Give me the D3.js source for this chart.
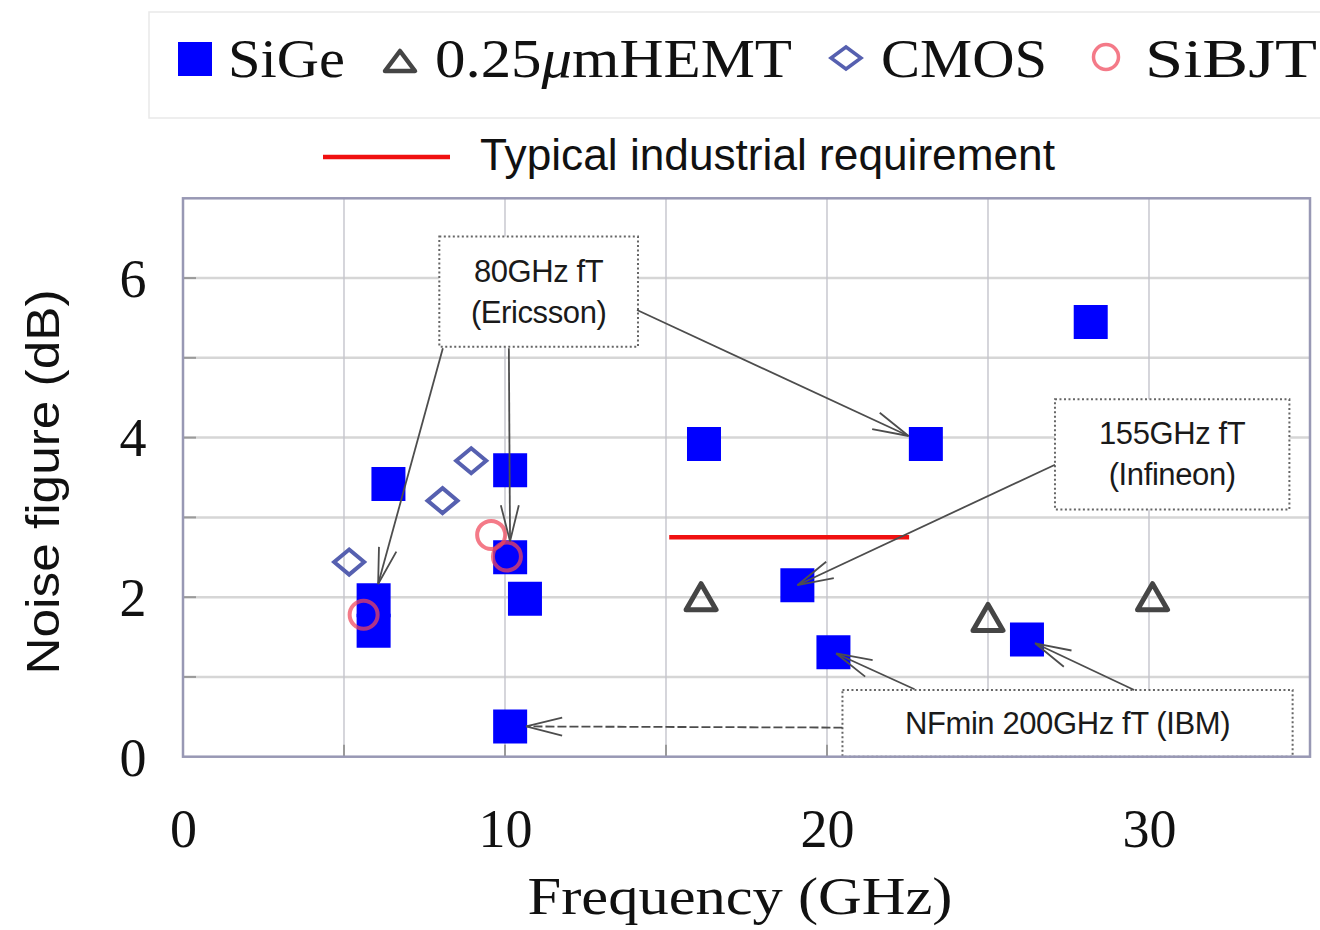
<!DOCTYPE html>
<html>
<head>
<meta charset="utf-8">
<script src="https://cdn.jsdelivr.net/npm/d3@7"></script>
<style>
  html, body { margin: 0; padding: 0; background: #fff; }
  svg { display: block; }
</style>
</head>
<body>
<svg id="chart" width="1320" height="930"></svg>
<script>
// Noise figure (dB) of low-noise amplifiers versus frequency (GHz), by technology
const sigeFreq = [6.38, 5.92, 5.92, 10.16, 10.16, 10.62, 10.16, 16.18, 23.07, 19.08, 20.20, 26.21, 28.19];
const sigeNF   = [3.42, 1.96, 1.58, 3.59, 2.50, 1.98, 0.38, 3.92, 3.92, 2.15, 1.31, 1.47, 5.45];
const hemtFreq = [16.09, 25.00, 30.11];
const hemtNF   = [1.99, 1.73, 1.99];
const cmosFreq = [5.16, 8.06, 8.95];
const cmosNF   = [2.44, 3.21, 3.71];
const bjtFreq  = [5.61, 9.57, 10.06];
const bjtNF    = [1.78, 2.78, 2.51];
const requirementFreq = [15.1, 22.55];
const requirementNF = 2.75;
const xTickValues = [0, 10, 20, 30];
const yTickValues = [0, 2, 4, 6];
const requirementLabel = "Typical industrial requirement";

// Callouts: box extent [x0, x1, yTop, yBottom] in data units, arrows point at SiGe entries
const callouts = [
  { lines: ["80GHz fT", "(Ericsson)"], box: [7.96, 14.13, 6.52, 5.14],
    arrows: [ { from: [8.07, 5.12], to: 1, gap: 17 },
              { from: [10.12, 5.12], to: 4, gap: 16 },
              { from: [14.10, 5.60], to: 8, gap: 19 } ] },
  { lines: ["155GHz fT", "(Infineon)"], box: [27.08, 34.36, 4.48, 3.10],
    arrows: [ { from: [27.08, 3.66], to: 9, gap: 0 } ] },
  { lines: ["NFmin 200GHz fT (IBM)"], box: [20.48, 34.46, 0.836, 0.0],
    arrows: [ { from: [22.72, 0.845], to: 10, gap: 3 },
              { from: [29.54, 0.836], to: 11, gap: 9 },
              { from: [20.48, 0.365], to: 6, gap: 16, dashed: true } ] }
];

const svg = d3.select("#chart");
const plot = { left: 183, right: 1310, top: 198.3, bottom: 756.7 };
const x = d3.scaleLinear().domain([0, 35]).range([plot.left, plot.right]);
const y = d3.scaleLinear().domain([0, 7]).range([plot.bottom, plot.top]);

const SERIF = "'Liberation Serif', 'Times New Roman', serif";
const SANS = "'Liberation Sans', Arial, sans-serif";
const BLUE = "#0000ff";
const HEMT = "#454545";
const CMOS = "#5660b0";
const BJT = "rgba(240, 70, 90, 0.72)";

// Marker shapes
const squareSide = 34;
function squarePath(s) { const h = s / 2; return `M${-h},${-h}H${h}V${h}H${-h}Z`; }
function trianglePath(w, h) { return `M0,${-h * 0.55}L${w / 2},${h * 0.45}L${-w / 2},${h * 0.45}Z`; }
function diamondPath(w, h) { return `M0,${-h / 2}L${w / 2},0L0,${h / 2}L${-w / 2},0Z`; }

// ---------- legend ----------
const legend = svg.append("g");
legend.append("rect").attr("x", 149).attr("y", 12).attr("width", 1190).attr("height", 106)
  .attr("fill", "#fff").attr("stroke", "#e9e9e9").attr("stroke-width", 1.5);

const legendY = 59;
legend.append("path").attr("d", squarePath(34)).attr("transform", `translate(195,${legendY})`).attr("fill", BLUE);
legend.append("path").attr("d", trianglePath(30, 20)).attr("transform", `translate(400,${legendY + 3})`)
  .attr("fill", "none").attr("stroke", HEMT).attr("stroke-width", 4.5).attr("stroke-linejoin", "round");
legend.append("path").attr("d", diamondPath(30, 22)).attr("transform", `translate(846,${legendY - 1})`)
  .attr("fill", "none").attr("stroke", CMOS).attr("stroke-width", 3.5);
legend.append("circle").attr("cx", 1106).attr("cy", legendY - 2).attr("r", 12.5)
  .attr("fill", "none").attr("stroke", BJT).attr("stroke-width", 3.5);

// legend labels: each is a list of [text, italic] runs
const legendLabels = [
  [["SiGe", false]],
  [["0.25", false], ["\u03BC", true], ["mHEMT", false]],
  [["CMOS", false]],
  [["SiBJT", false]]
];
const legendText = [
  { x: 228, len: 117 }, { x: 435, len: 357 }, { x: 881, len: 166 }, { x: 1145, len: 172 }
];
legendLabels.forEach((runs, i) => {
  const t = legend.append("text").attr("x", legendText[i].x).attr("y", 77)
    .attr("font-family", SERIF).attr("font-size", 55).attr("fill", "#111")
    .attr("textLength", legendText[i].len).attr("lengthAdjust", "spacingAndGlyphs");
  runs.forEach(([s, it]) => t.append("tspan").attr("font-style", it ? "italic" : null).text(s));
});

// requirement legend entry
svg.append("line").attr("x1", 323).attr("x2", 450).attr("y1", 157).attr("y2", 157)
  .attr("stroke", "#f01010").attr("stroke-width", 4.5);
svg.append("text").attr("x", 480).attr("y", 170)
  .attr("font-family", SANS).attr("font-size", 44).attr("fill", "#111")
  .attr("textLength", 575).attr("lengthAdjust", "spacingAndGlyphs")
  .text(requirementLabel);

// ---------- grid ----------
const grid = svg.append("g");
grid.selectAll("line.h").data(d3.range(1, 7)).join("line")
  .attr("x1", plot.left).attr("x2", plot.right)
  .attr("y1", d => y(d)).attr("y2", d => y(d))
  .attr("stroke", "#d6d6d6").attr("stroke-width", 2.5);
grid.selectAll("line.v").data(d3.range(5, 35, 5)).join("line")
  .attr("x1", d => x(d)).attr("x2", d => x(d))
  .attr("y1", plot.top).attr("y2", plot.bottom)
  .attr("stroke", "#c4c4cc").attr("stroke-width", 1.4);

// inner tick marks
grid.selectAll("line.yt").data(d3.range(1, 7)).join("line")
  .attr("x1", plot.left).attr("x2", plot.left + 13)
  .attr("y1", d => y(d)).attr("y2", d => y(d))
  .attr("stroke", "#9a9a9a").attr("stroke-width", 2);
grid.selectAll("line.xt").data(d3.range(5, 35, 5)).join("line")
  .attr("x1", d => x(d)).attr("x2", d => x(d))
  .attr("y1", plot.bottom).attr("y2", plot.bottom - 12)
  .attr("stroke", "#9a9a9a").attr("stroke-width", 2);

// ---------- axes labels ----------
const xAxis = svg.append("g").attr("transform", `translate(0,${plot.bottom})`)
  .call(d3.axisBottom(x).tickValues(xTickValues).tickSize(0).tickPadding(52).tickFormat(d3.format("d")));
xAxis.select(".domain").remove();
xAxis.selectAll("text").attr("font-family", SERIF).attr("font-size", 54).attr("fill", "#111");

const yAxis = svg.append("g").attr("transform", `translate(${plot.left},0)`)
  .call(d3.axisLeft(y).tickValues(yTickValues).tickSize(0).tickPadding(50).tickFormat(d3.format("d")));
yAxis.select(".domain").remove();
yAxis.selectAll("text").attr("font-family", SERIF).attr("font-size", 54).attr("fill", "#111")
  .attr("text-anchor", "middle").attr("dy", "0.34em");

svg.append("text").attr("transform", "translate(59,482) rotate(-90)")
  .attr("text-anchor", "middle").attr("font-family", SANS).attr("font-size", 47).attr("fill", "#111")
  .attr("textLength", 385).attr("lengthAdjust", "spacingAndGlyphs")
  .text("Noise figure (dB)");
svg.append("text").attr("x", 740).attr("y", 914).attr("text-anchor", "middle")
  .attr("font-family", SERIF).attr("font-size", 53).attr("fill", "#111")
  .attr("textLength", 425).attr("lengthAdjust", "spacingAndGlyphs")
  .text("Frequency (GHz)");

// ---------- requirement line ----------
svg.append("line")
  .attr("x1", x(requirementFreq[0])).attr("x2", x(requirementFreq[1]))
  .attr("y1", y(requirementNF)).attr("y2", y(requirementNF))
  .attr("stroke", "#f01010").attr("stroke-width", 4.5);

// ---------- markers ----------
const sige = sigeFreq.map((f, i) => ({ f, nf: sigeNF[i] }));
svg.append("g").selectAll("path").data(sige).join("path")
  .attr("d", squarePath(squareSide))
  .attr("transform", d => `translate(${x(d.f)},${y(d.nf)})`)
  .attr("fill", BLUE);

svg.append("g").selectAll("path").data(hemtFreq.map((f, i) => ({ f, nf: hemtNF[i] }))).join("path")
  .attr("d", trianglePath(30, 26))
  .attr("transform", d => `translate(${x(d.f)},${y(d.nf)})`)
  .attr("fill", "none").attr("stroke", HEMT).attr("stroke-width", 5).attr("stroke-linejoin", "round");

svg.append("g").selectAll("path").data(cmosFreq.map((f, i) => ({ f, nf: cmosNF[i] }))).join("path")
  .attr("d", diamondPath(30, 25))
  .attr("transform", d => `translate(${x(d.f)},${y(d.nf)})`)
  .attr("fill", "none").attr("stroke", CMOS).attr("stroke-width", 4);

svg.append("g").selectAll("circle").data(bjtFreq.map((f, i) => ({ f, nf: bjtNF[i] }))).join("circle")
  .attr("cx", d => x(d.f)).attr("cy", d => y(d.nf)).attr("r", 14)
  .attr("fill", "none").attr("stroke", BJT).attr("stroke-width", 4);

// ---------- callouts ----------
const notes = svg.append("g");
callouts.forEach(c => {
  const [bx0, bx1, byTop, byBot] = c.box;
  const X0 = x(bx0), X1 = x(bx1), Y0 = y(byTop), Y1 = y(byBot);
  notes.append("rect").attr("x", X0).attr("y", Y0).attr("width", X1 - X0).attr("height", Y1 - Y0)
    .attr("fill", "#fff").attr("stroke", "#666").attr("stroke-width", 2).attr("stroke-dasharray", "2,2.5");
  const cy = (Y0 + Y1) / 2, n = c.lines.length;
  c.lines.forEach((t, i) => {
    notes.append("text").attr("x", (X0 + X1) / 2).attr("y", cy + (i - (n - 1) / 2) * 41 + 10.5)
      .attr("text-anchor", "middle").attr("font-family", SANS).attr("font-size", 31)
      .attr("letter-spacing", -0.4).attr("fill", "#1a1a1a").text(t);
  });
});

const arrows = svg.append("g").attr("fill", "none").attr("stroke", "#4d4d4d").attr("stroke-width", 1.8);
callouts.forEach(c => {
  c.arrows.forEach(a => {
    const sx = x(a.from[0]), sy = y(a.from[1]);
    const tx = x(sige[a.to].f), ty = y(sige[a.to].nf);
    const ang = Math.atan2(ty - sy, tx - sx);
    const ex = tx - Math.cos(ang) * a.gap, ey = ty - Math.sin(ang) * a.gap;
    arrows.append("line").attr("x1", sx).attr("y1", sy).attr("x2", ex).attr("y2", ey)
      .attr("stroke-dasharray", a.dashed ? "9,3" : null);
    const L = 36, Wd = 9;
    const bx = ex - L * Math.cos(ang), by = ey - L * Math.sin(ang);
    const px = -Math.sin(ang) * Wd, py = Math.cos(ang) * Wd;
    arrows.append("path").attr("d", `M${bx + px},${by + py}L${ex},${ey}L${bx - px},${by - py}`);
  });
});

// ---------- plot frame ----------
svg.append("rect").attr("x", plot.left).attr("y", plot.top)
  .attr("width", plot.right - plot.left).attr("height", plot.bottom - plot.top)
  .attr("fill", "none").attr("stroke", "#9898b4").attr("stroke-width", 2.5);
</script>
</body>
</html>
